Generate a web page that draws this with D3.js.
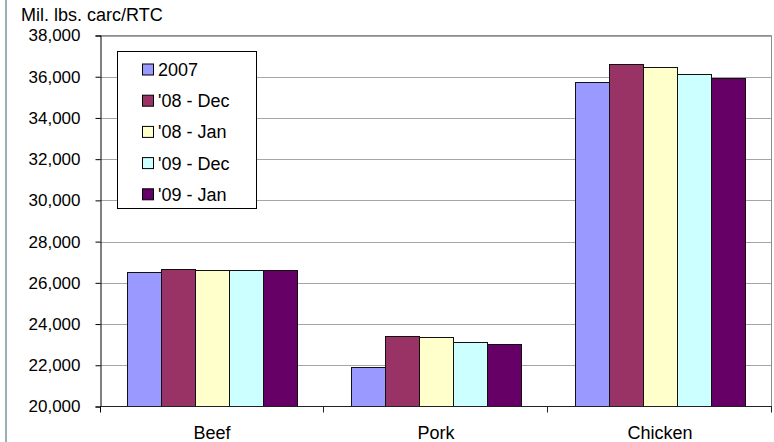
<!DOCTYPE html>
<html>
<head>
<meta charset="utf-8">
<script src="https://cdn.jsdelivr.net/npm/d3@7"></script>
<style>
  body { margin: 0; background: #fff; }
  svg { display: block; font-family: "Liberation Sans", Arial, sans-serif; }
</style>
</head>
<body>
<svg width="774" height="442"></svg>
<script>
const categories = ['Beef', 'Pork', 'Chicken'];
const series = ['2007', "'08 - Dec", "'08 - Jan", "'09 - Dec", "'09 - Jan"];
const colors = ['#9999ff', '#993366', '#ffffcc', '#ccffff', '#660066'];
const beef = [26520, 26680, 26640, 26640, 26640];
const pork = [21940, 23420, 23370, 23150, 23030];
const chicken = [35760, 36600, 36490, 36120, 35920];
const yTicks = [20000, 22000, 24000, 26000, 28000, 30000, 32000, 34000, 36000, 38000];

const values = [beef, pork, chicken];
const rows = [];
categories.forEach((c, i) => {
    series.forEach((s, j) => rows.push({ cat: c, series: s, value: values[i][j], color: colors[j] }));
});

const plotLeft = 100, plotRight = 772, plotTop = 35.5, plotBottom = 406.5;

const svg = d3.select('svg');

// outer frame line on the left
svg.append('line')
   .attr('x1', 6).attr('x2', 6)
   .attr('y1', 0).attr('y2', 442)
   .attr('stroke', '#9bb0b2')
   .attr('stroke-width', 2);

const x = d3.scaleBand()
            .domain(categories)
            .range([plotLeft, plotRight]);

const xInner = d3.scaleBand()
                 .domain(series)
                 .range([27, 197]);

const y = d3.scaleLinear()
            .domain([20000, 38000])
            .range([plotBottom, plotTop]);

// grid lines
svg.append('g')
   .selectAll('line')
   .data(yTicks.slice(1))
   .enter()
   .append('line')
   .attr('x1', plotLeft).attr('x2', plotRight - 0.5)
   .attr('y1', d => Math.round(y(d)) + 0.5)
   .attr('y2', d => Math.round(y(d)) + 0.5)
   .attr('stroke', '#a6a6a6');

// plot border top/right
svg.append('path')
   .attr('d', `M${plotLeft},${plotTop}H${plotRight - 0.5}V${plotBottom}`)
   .attr('fill', 'none')
   .attr('stroke', '#8c8c8c');

// bars
svg.append('g')
   .selectAll('rect')
   .data(rows)
   .enter()
   .append('rect')
   .attr('x', d => Math.round(x(d.cat) + xInner(d.series)) + 0.5)
   .attr('y', d => Math.round(y(d.value)) + 0.5)
   .attr('width', xInner.bandwidth())
   .attr('height', d => plotBottom - Math.round(y(d.value)) - 0.5)
   .attr('fill', d => d.color)
   .attr('stroke', '#111')
   .attr('stroke-width', 1);

// y axis
const yAxis = svg.append('g')
   .attr('transform', `translate(${plotLeft + 0.5},0)`)
   .call(d3.axisLeft(y)
           .tickValues(yTicks)
           .tickSize(5)
           .tickPadding(15)
           .tickFormat(d3.format(',')));
yAxis.select('.domain').attr('stroke', '#000');
yAxis.selectAll('line').attr('stroke', '#000');
yAxis.selectAll('text')
     .attr('fill', '#000')
     .style('font-size', '17px')
     .style('font-family', '"Liberation Sans", Arial, sans-serif');

// x axis
const xAxis = svg.append('g')
   .attr('transform', `translate(0,${plotBottom})`);
xAxis.append('line')
     .attr('x1', plotLeft).attr('x2', plotRight)
     .attr('stroke', '#222');
xAxis.selectAll('.tk')
     .data(categories)
     .enter()
     .append('line')
     .attr('x1', d => x(d) + x.bandwidth() - 0.5)
     .attr('x2', d => x(d) + x.bandwidth() - 0.5)
     .attr('y1', 0).attr('y2', 6)
     .attr('stroke', '#222');
xAxis.append('line')
     .attr('x1', plotLeft + 0.5).attr('x2', plotLeft + 0.5)
     .attr('y1', 0).attr('y2', 6)
     .attr('stroke', '#000');
xAxis.selectAll('text')
     .data(categories)
     .enter()
     .append('text')
     .attr('x', d => x(d) + x.bandwidth() / 2)
     .attr('y', 32)
     .attr('text-anchor', 'middle')
     .style('font-size', '18px')
     .text(d => d);

// axis title
svg.append('text')
   .attr('x', 21)
   .attr('y', 21)
   .style('font-size', '18px')
   .text('Mil. lbs. carc/RTC');

// legend
const legend = svg.append('g');
legend.append('rect')
      .attr('x', 117.5).attr('y', 51.5)
      .attr('width', 139).attr('height', 157)
      .attr('fill', '#fff')
      .attr('stroke', '#000');

const item = legend.selectAll('.item')
      .data(series)
      .enter()
      .append('g')
      .attr('transform', (d, i) => `translate(0,${69.5 + i * 31.2})`);
item.append('rect')
    .attr('x', 142.5).attr('y', -5.5)
    .attr('width', 11).attr('height', 11)
    .attr('fill', (d, i) => colors[i])
    .attr('stroke', '#000');
item.append('text')
    .attr('x', 158)
    .attr('y', 6.5)
    .style('font-size', '18px')
    .text(d => d);
</script>
</body>
</html>
